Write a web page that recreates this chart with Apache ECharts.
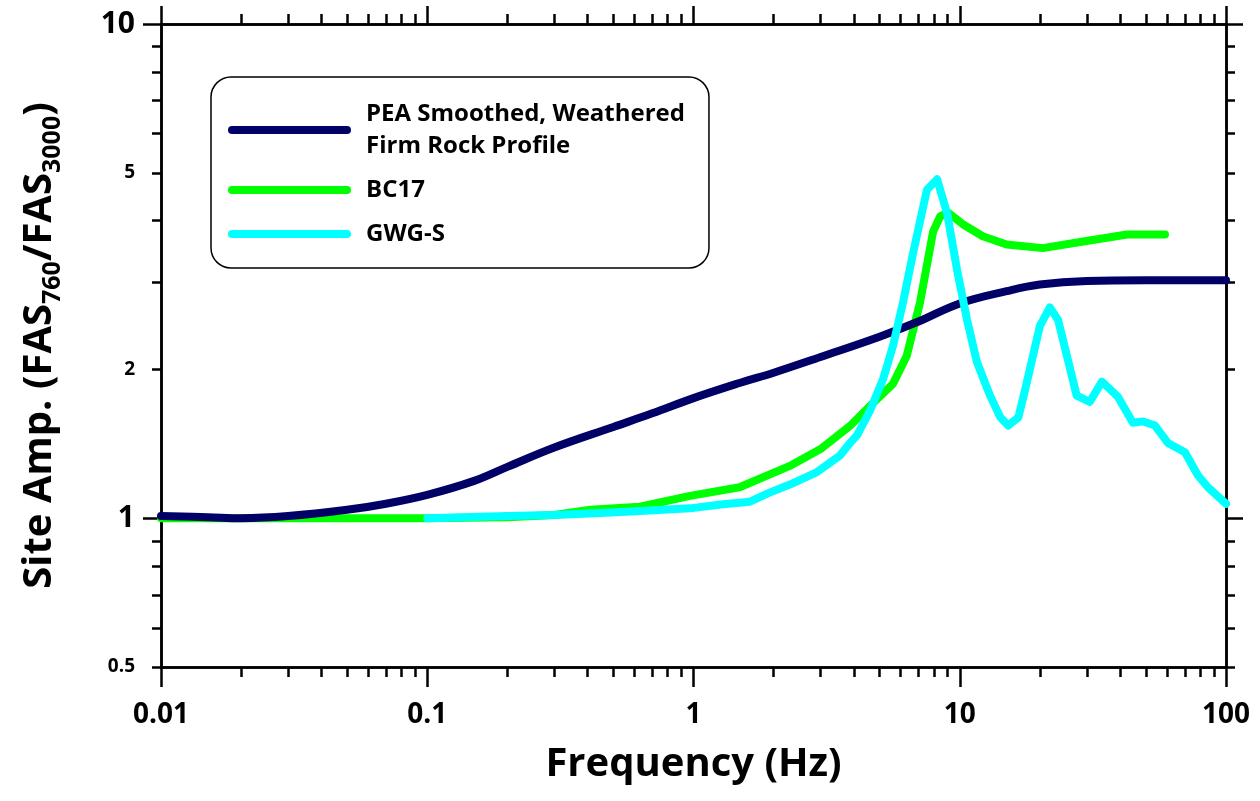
<!DOCTYPE html>
<html>
<head>
    <meta charset="utf-8">
    <script src="https://cdn.jsdelivr.net/npm/echarts@6/dist/echarts.min.js"></script>
    <style>
        html, body { margin: 0; padding: 0; background: #ffffff; }
        #chart { width: 1260px; height: 801px; }
    </style>
</head>
<body>
    <div id="chart"></div>
    <script>
        // PEA smoothed, weathered firm rock profile
        var peaFreq = [0.01, 0.015, 0.02, 0.03, 0.05, 0.07, 0.1, 0.15, 0.2, 0.3, 0.5, 0.7, 1, 1.5, 2, 3, 5, 7, 10, 15, 20, 30, 50, 100];
        var peaAmp = [1.01, 1.005, 1.0, 1.01, 1.04, 1.07, 1.115, 1.19, 1.27, 1.39, 1.53, 1.63, 1.75, 1.88, 1.97, 2.12, 2.33, 2.50, 2.72, 2.88, 2.97, 3.02, 3.03, 3.03];

        // BC17
        var bc17Freq = [0.01, 0.05, 0.1, 0.2, 0.3, 0.41, 0.63, 0.97, 1.49, 2.3, 3.0, 3.87, 4.72, 5.61, 6.32, 7.09, 7.94, 8.44, 9.04, 10.3, 12.2, 15.0, 20.5, 29.1, 42.5, 59.0];
        var bc17Amp = [1.0, 1.0, 1.0, 1.005, 1.015, 1.04, 1.055, 1.11, 1.155, 1.276, 1.38, 1.537, 1.71, 1.87, 2.13, 2.73, 3.80, 4.08, 4.15, 3.93, 3.72, 3.58, 3.52, 3.63, 3.75, 3.75];

        // GWG-S
        var gwgFreq = [0.1, 0.2, 0.3, 0.45, 0.63, 0.97, 1.29, 1.63, 1.94, 2.3, 2.91, 3.55, 3.87, 4.11, 4.6, 5.15, 5.61, 6.12, 6.68, 7.53, 8.22, 8.96, 9.77, 10.65, 11.6, 13.0, 14.2, 15.2, 16.6, 17.6, 20.0, 21.8, 23.4, 27.5, 30.8, 34.2, 39.3, 44.7, 48.8, 54.1, 60.5, 70.1, 78.5, 85.5, 100];
        var gwgAmp = [1.0, 1.01, 1.015, 1.025, 1.034, 1.047, 1.067, 1.08, 1.128, 1.17, 1.24, 1.34, 1.42, 1.47, 1.65, 1.91, 2.23, 2.73, 3.44, 4.62, 4.85, 4.15, 3.18, 2.52, 2.07, 1.77, 1.60, 1.54, 1.60, 1.82, 2.45, 2.67, 2.52, 1.77, 1.72, 1.89, 1.76, 1.56, 1.57, 1.54, 1.42, 1.36, 1.22, 1.155, 1.07];

        // axis ticks
        var xTickValues = [0.01, 0.1, 1, 10, 100];
        var xTickLabels = ['0.01', '0.1', '1', '10', '100'];
        var xMinorTicks = [0.02, 0.03, 0.04, 0.05, 0.06, 0.07, 0.08, 0.09, 0.2, 0.3, 0.4, 0.5, 0.6, 0.7, 0.8, 0.9,
            2, 3, 4, 5, 6, 7, 8, 9, 20, 30, 40, 50, 60, 70, 80, 90];
        var yTickValues = [0.5, 1, 2, 5, 10];
        var yTickLabels = ['0.5', '1', '2', '5', '10'];
        var yMajorTicks = [1, 10];
        var yMinorTicks = [0.5, 0.6, 0.7, 0.8, 0.9, 2, 3, 4, 5, 6, 7, 8, 9];

        var FONT = "'Open Sans', 'Noto Sans', sans-serif";
        var log = Math.log10;

        function toPoints(fs, as) {
            return fs.map(function (f, i) { return [log(f), log(as[i])]; });
        }

        function pick(vals, labels, v) {
            for (var i = 0; i < vals.length; i++) {
                if (Math.abs(log(vals[i]) - v) < 1e-6) return labels[i];
            }
            return '';
        }

        var lineW = 2.5;

        function xAxisOf(pos, ticks, len, withLabel) {
            return {
                type: 'value', position: pos, min: -2, max: 2,
                axisLine: { show: true, onZero: false, lineStyle: { color: '#000', width: lineW } },
                axisTick: { show: true, inside: false, length: len, customValues: ticks.map(log), lineStyle: { color: '#000', width: lineW } },
                axisLabel: withLabel ? {
                    show: true, margin: 34, customValues: xTickValues.map(log),
                    fontFamily: FONT, fontWeight: 'bold', fontSize: 28, color: '#000',
                    formatter: function (v) { return pick(xTickValues, xTickLabels, v); }
                } : { show: false },
                splitLine: { show: false },
                name: withLabel ? 'Frequency (Hz)' : '',
                nameLocation: 'middle', nameGap: 78,
                nameTextStyle: { fontFamily: FONT, fontWeight: 'bold', fontSize: 40, color: '#000' }
            };
        }

        function yAxisOf(pos, ticks, len, withLabel) {
            return {
                type: 'value', position: pos, min: log(0.5), max: 1,
                axisLine: { show: true, onZero: false, lineStyle: { color: '#000', width: lineW } },
                axisTick: { show: true, inside: false, length: len, customValues: ticks.map(log), lineStyle: { color: '#000', width: lineW } },
                axisLabel: withLabel ? {
                    show: true, margin: 26, customValues: yTickValues.map(log),
                    color: '#000',
                    formatter: function (v) {
                        var s = pick(yTickValues, yTickLabels, v);
                        return (s === '1' || s === '10') ? '{big|' + s + '}' : '{small|' + s + '}';
                    },
                    rich: {
                        big: { fontFamily: FONT, fontWeight: 'bold', fontSize: 30, color: '#000' },
                        small: { fontFamily: FONT, fontWeight: 'bold', fontSize: 19, color: '#000' }
                    }
                } : { show: false },
                splitLine: { show: false },
                name: withLabel ? '{t|Site Amp. (FAS}{s|760}{t|/FAS}{s|3000}{t|)}' : '',
                nameLocation: 'middle', nameGap: 96,
                nameTextStyle: {
                    color: '#000',
                    rich: {
                        t: { fontFamily: FONT, fontWeight: 'bold', fontSize: 40, lineHeight: 50, color: '#000' },
                        s: { fontFamily: FONT, fontWeight: 'bold', fontSize: 25, lineHeight: 50, verticalAlign: 'bottom', color: '#000' }
                    }
                }
            };
        }

        function lineSeries(name, color, pts, smooth) {
            return {
                name: name, type: 'line', data: pts,
                xAxisIndex: 0, yAxisIndex: 0,
                showSymbol: false, symbol: 'none',
                smooth: smooth || false,
                itemStyle: { color: color },
                lineStyle: { color: color, width: 8, cap: 'round', join: 'round' }
            };
        }

        var peaName = 'PEA Smoothed, Weathered\nFirm Rock Profile';
        var legendIcon = 'path://M4,0H119A4,4,0,0,1,119,8H4A4,4,0,0,1,4,0Z';

        var chart = echarts.init(document.getElementById('chart'), null, { renderer: 'canvas' });
        chart.setOption({
            animation: false,
            backgroundColor: '#ffffff',
            grid: { left: 161, right: 34, top: 24, bottom: 134, containLabel: false },
            legend: {
                left: 211, top: 77, orient: 'vertical',
                data: [peaName, 'BC17', 'GWG-S'],
                icon: legendIcon, itemWidth: 123, itemHeight: 8, itemGap: 12,
                selectedMode: false,
                padding: [21, 24, 18, 17],
                backgroundColor: '#ffffff', borderColor: '#000', borderWidth: 1.5, borderRadius: 20,
                textStyle: { fontFamily: FONT, fontWeight: 'bold', fontSize: 24, lineHeight: 32, color: '#000', padding: [0, 0, 0, 10] }
            },
            xAxis: [
                xAxisOf('bottom', xTickValues, 20, true),
                xAxisOf('bottom', xMinorTicks, 10, false),
                xAxisOf('top', xTickValues, 18, false),
                xAxisOf('top', xMinorTicks, 10, false)
            ],
            yAxis: [
                yAxisOf('left', yMajorTicks, 18, true),
                yAxisOf('left', yMinorTicks, 9, false),
                yAxisOf('right', yMajorTicks, 17, false),
                yAxisOf('right', yMinorTicks, 9, false)
            ],
            series: [
                lineSeries('BC17', '#00ff00', toPoints(bc17Freq, bc17Amp)),
                lineSeries(peaName, '#000066', toPoints(peaFreq, peaAmp), 0.4),
                lineSeries('GWG-S', '#00ffff', toPoints(gwgFreq, gwgAmp))
            ]
        });
    </script>
</body>
</html>
